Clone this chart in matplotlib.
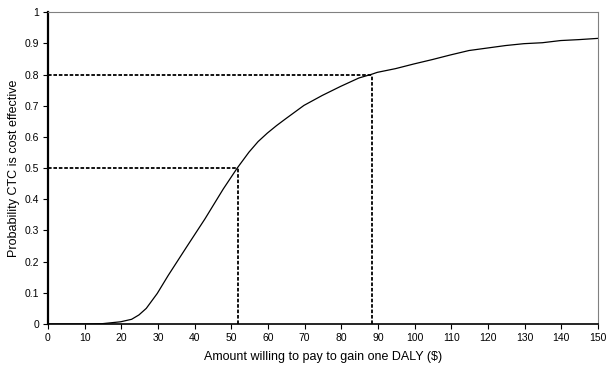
import matplotlib
matplotlib.use("Agg")
import matplotlib.pyplot as plt
from matplotlib.ticker import FuncFormatter

# willingness to pay ($) vs probability cost effective
wtp = [0, 5, 10, 14.8, 19.8, 22.8, 24.8, 26.8, 29.8, 32.8, 37.8, 42.8, 47.8,
       51.6, 54.8, 57.3, 59.8, 62.3, 64.8, 69.8, 74.8, 79.8, 84.8, 88.3, 89.8,
       94.8, 99.8, 104.8, 109.8, 114.8, 119.8, 124.8, 129.8, 134.8, 139.8,
       144.8, 150]
prob = [0, 0, 0, 0.001, 0.007, 0.015, 0.029, 0.05, 0.098, 0.156, 0.247, 0.337,
        0.433, 0.5, 0.551, 0.585, 0.612, 0.636, 0.658, 0.701, 0.733, 0.762,
        0.789, 0.801, 0.807, 0.819, 0.834, 0.848, 0.863, 0.877, 0.885, 0.893,
        0.899, 0.902, 0.909, 0.912, 0.916]

# reference thresholds shown with dashed guides
thresholds_x = [51.7, 88.3]
thresholds_y = [0.5, 0.8]

plt.rcParams["font.family"] = ["Liberation Sans", "DejaVu Sans"]

fig = plt.figure(figsize=(6.09, 3.69), dpi=100)
ax = fig.add_axes([0.0788, 0.122, 0.9032, 0.845])

ax.plot(wtp, prob, color="black", lw=0.9)
for tx, ty in zip(thresholds_x, thresholds_y):
    ax.plot([0, tx], [ty, ty], color="black", lw=1.3, ls=(0, (2, 1)))
    ax.plot([tx, tx], [0, ty], color="black", lw=1.3, ls=(0, (2, 1)))

ax.set_xlim(0, 150)
ax.set_ylim(0, 1)
ax.set_xticks(range(0, 151, 10))
ax.set_yticks([i / 10 for i in range(11)])
ax.yaxis.set_major_formatter(FuncFormatter(lambda v, p: f"{v:g}"))
ax.tick_params(direction="out", length=3.5, width=0.8, labelsize=7.5,
               color="black", pad=3)

ax.spines["left"].set_linewidth(1.6)
ax.spines["bottom"].set_linewidth(1.2)
ax.spines["top"].set_color("#808080")
ax.spines["right"].set_color("#808080")
ax.spines["top"].set_linewidth(0.8)
ax.spines["right"].set_linewidth(0.8)

ax.set_xlabel("Amount willing to pay to gain one DALY ($)", fontsize=9, labelpad=6)
ax.set_ylabel("Probability CTC is cost effective", fontsize=9, labelpad=3)

fig.savefig("out.png", dpi=100)
